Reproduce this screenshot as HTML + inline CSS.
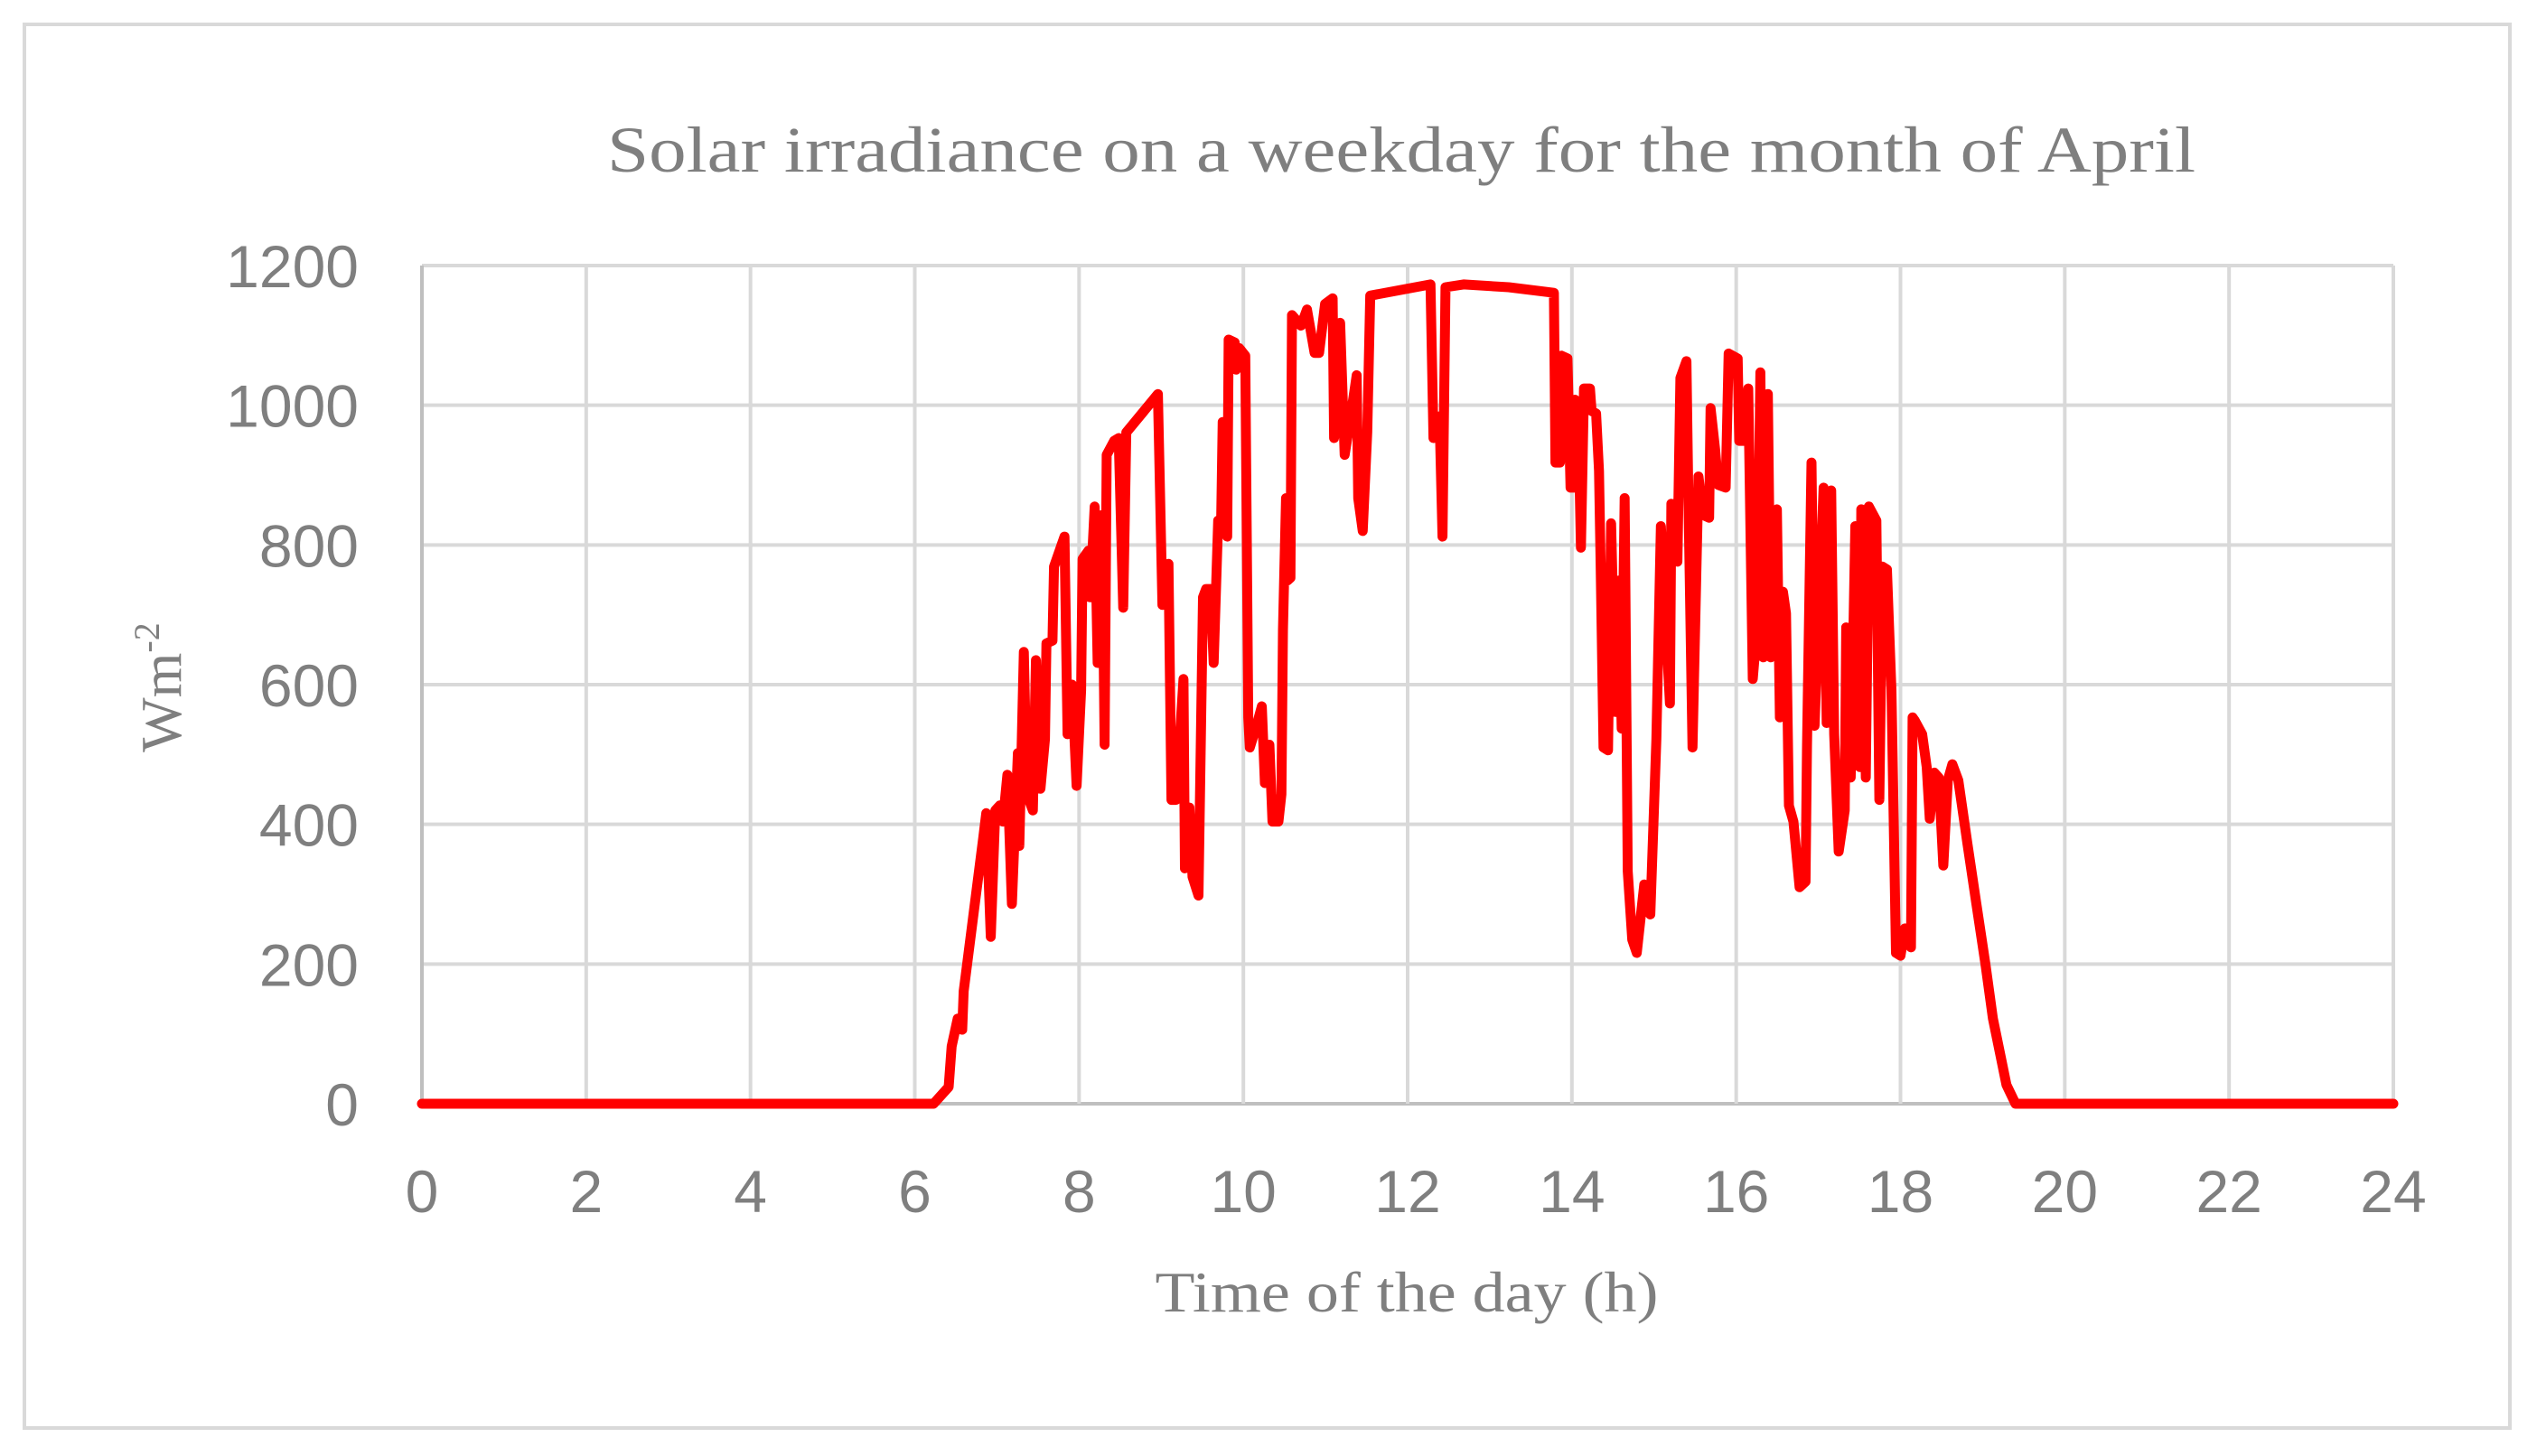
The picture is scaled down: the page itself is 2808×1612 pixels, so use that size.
<!DOCTYPE html>
<html>
<head>
<meta charset="utf-8">
<style>
html,body{margin:0;padding:0;background:#fff;}
svg{display:block;}
text{font-family:"Liberation Sans",sans-serif;fill:#7f7f7f;}
.serif{font-family:"Liberation Serif",serif;}
</style>
</head>
<body>
<svg id="chart" width="2808" height="1612" viewBox="0 0 2808 1612" xmlns="http://www.w3.org/2000/svg">
  <rect x="27" y="27" width="2751" height="1554" fill="#fff" stroke="#d9d9d9" stroke-width="4"/>
  <text class="serif" x="1551" y="190" font-size="72" text-anchor="middle" textLength="1758" lengthAdjust="spacingAndGlyphs">Solar irradiance on a weekday for the month of April</text>
  <g id="grid"></g>
  <g id="yticks"></g>
  <g id="xticks"></g>
  <path id="series" fill="none" stroke="#ff0000" stroke-width="11" stroke-linejoin="round" stroke-linecap="round"/>
  <text class="serif" x="1557" y="1452" font-size="64" text-anchor="middle" textLength="557" lengthAdjust="spacingAndGlyphs">Time of the day (h)</text>
  <text class="serif" font-size="64" text-anchor="middle" transform="translate(200,761) rotate(-90)">Wm<tspan font-size="40" dy="-24">-2</tspan></text>
</svg>
<script>
const xTickLabels = [0,2,4,6,8,10,12,14,16,18,20,22,24];
const yTickLabels = [0,200,400,600,800,1000,1200];
const hours = [0,6.229,6.412,6.449,6.522,6.577,6.595,6.833,6.870,6.925,6.980,7.035,7.072,7.127,7.182,7.255,7.273,7.328,7.365,7.438,7.475,7.530,7.585,7.603,7.676,7.695,7.823,7.860,7.915,7.970,8.025,8.043,8.116,8.135,8.190,8.226,8.281,8.311,8.336,8.428,8.483,8.538,8.575,8.960,9.015,9.088,9.125,9.180,9.271,9.289,9.344,9.381,9.454,9.509,9.546,9.601,9.638,9.693,9.729,9.748,9.784,9.803,9.821,9.894,9.913,9.949,10.024,10.060,10.079,10.170,10.225,10.262,10.317,10.354,10.427,10.463,10.482,10.519,10.537,10.573,10.592,10.702,10.775,10.867,10.922,10.995,11.087,11.105,11.178,11.233,11.307,11.380,11.398,11.453,11.508,11.545,12.278,12.315,12.388,12.425,12.461,12.681,13.231,13.781,13.799,13.854,13.873,13.946,13.983,14.019,14.037,14.073,14.110,14.147,14.220,14.239,14.294,14.330,14.349,14.385,14.440,14.477,14.532,14.569,14.606,14.642,14.679,14.734,14.789,14.881,14.954,15.028,15.083,15.193,15.211,15.284,15.321,15.394,15.413,15.468,15.541,15.596,15.670,15.688,15.743,15.780,15.872,15.908,16.018,16.037,16.110,16.147,16.202,16.257,16.294,16.330,16.385,16.422,16.495,16.532,16.569,16.606,16.642,16.697,16.771,16.844,16.862,16.917,16.954,17.064,17.101,17.156,17.193,17.248,17.321,17.339,17.394,17.450,17.505,17.523,17.578,17.615,17.706,17.743,17.780,17.835,17.890,17.945,18.000,18.055,18.128,18.147,18.172,18.264,18.319,18.356,18.411,18.466,18.521,18.576,18.631,18.704,18.814,18.924,19.034,19.125,19.290,19.400,24];
const irradiance = [0,0,24,82,122,106,161,380,416,239,420,427,404,471,286,502,369,647,443,420,635,451,522,659,663,769,812,529,600,455,592,780,792,725,855,631,843,514,929,949,953,710,961,1016,714,773,435,435,608,337,424,325,298,725,737,737,631,835,827,976,976,812,1094,1090,1051,1082,1071,553,510,545,569,459,514,404,404,443,678,867,749,753,1129,1114,1137,1075,1075,1145,1153,953,1118,929,984,1043,867,820,961,1157,1173,953,984,812,1169,1173,1169,1161,918,918,1071,1067,882,882,1008,1004,796,1024,1024,992,988,906,773,510,506,831,561,749,537,867,333,235,216,314,271,522,827,573,859,776,1039,1063,906,510,898,843,839,996,937,886,882,1074,1067,949,949,1024,608,686,1047,639,1016,639,851,553,733,702,427,404,310,318,510,918,541,882,545,878,529,361,420,682,467,827,482,851,467,855,835,435,769,765,592,216,212,251,224,553,549,529,482,408,474,467,341,463,486,463,373,286,200,122,27,0,0];

const L=467, R=2649, T=294, B=1222;
const xs = h => L + (h/24)*(R-L);
const ys = v => B - (v/1200)*(B-T);
const NS="http://www.w3.org/2000/svg";
const grid=document.getElementById('grid');
yTickLabels.forEach(v=>{
  const ln=document.createElementNS(NS,'line');
  
  
  ln.setAttribute('x1',L);ln.setAttribute('x2',R);ln.setAttribute('y1',ys(v));ln.setAttribute('y2',ys(v));
  ln.setAttribute('stroke',v===0?'#bfbfbf':'#d9d9d9');ln.setAttribute('stroke-width','4');
  grid.appendChild(ln);
  const t=document.createElementNS(NS,'text');
  
  
  t.setAttribute('x',397);t.setAttribute('y',ys(v)+24);t.setAttribute('font-size','66');t.setAttribute('text-anchor','end');
  t.textContent=v;document.getElementById('yticks').appendChild(t);
});
xTickLabels.forEach(h=>{
  const ln=document.createElementNS(NS,'line');
  
  
  ln.setAttribute('x1',xs(h));ln.setAttribute('x2',xs(h));ln.setAttribute('y1',T);ln.setAttribute('y2',B);
  ln.setAttribute('stroke',h===0?'#bfbfbf':'#d9d9d9');ln.setAttribute('stroke-width','4');
  grid.appendChild(ln);
  const t=document.createElementNS(NS,'text');
  
  
  t.setAttribute('x',xs(h));t.setAttribute('y',1342);t.setAttribute('font-size','66');t.setAttribute('text-anchor','middle');
  t.textContent=h;document.getElementById('xticks').appendChild(t);
});
let d='';
hours.forEach((h,i)=>{d+=(i?'L':'M')+xs(h).toFixed(1)+' '+ys(irradiance[i]).toFixed(1)+' ';});
document.getElementById('series').setAttribute('d',d);
</script>
</body>
</html>
